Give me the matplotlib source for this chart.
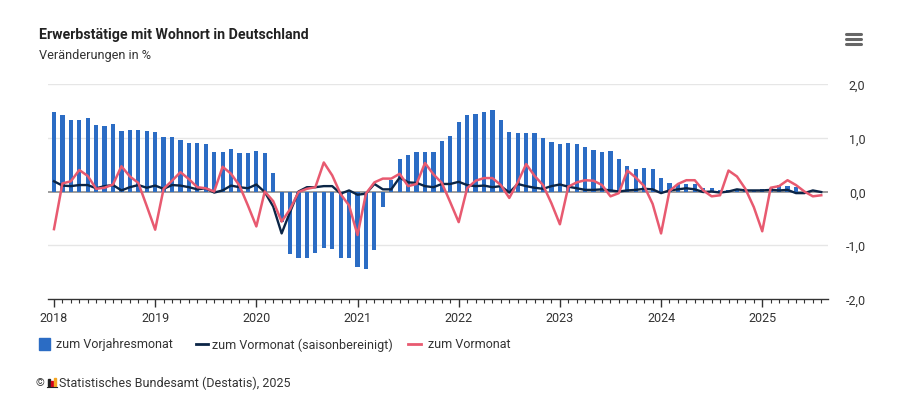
import numpy as np
import matplotlib.pyplot as plt
from matplotlib.lines import Line2D
from matplotlib.patches import Rectangle

# Monatswerte Januar 2018 bis August 2025, Veränderungen in %
years = [2018, 2019, 2020, 2021, 2022, 2023, 2024, 2025]

# zum Vorjahresmonat (Balken)
vorjahresmonat = [
    1.48, 1.43, 1.33, 1.33, 1.36, 1.24, 1.22, 1.26, 1.13, 1.15, 1.15, 1.12,
    1.10, 1.02, 1.02, 0.96, 0.91, 0.91, 0.88, 0.74, 0.74, 0.79, 0.72, 0.71,
    0.76, 0.71, 0.34, -0.56, -1.16, -1.23, -1.23, -1.15, -1.06, -1.07, -1.23, -1.23,
    -1.40, -1.45, -1.09, -0.29, 0.21, 0.60, 0.67, 0.73, 0.73, 0.73, 0.94, 1.04,
    1.29, 1.43, 1.45, 1.48, 1.52, 1.33, 1.11, 1.09, 1.09, 1.09, 0.99, 0.93,
    0.88, 0.90, 0.88, 0.83, 0.78, 0.73, 0.76, 0.60, 0.47, 0.42, 0.44, 0.42,
    0.25, 0.16, 0.14, 0.14, 0.14, 0.07, 0.06, 0.02, 0.02, 0.04, 0.04, 0.03,
    0.04, 0.07, 0.12, 0.10, 0.09, 0.00, 0.00, -0.01,
]

# zum Vormonat (saisonbereinigt)
vormonat_sb = [
    0.19, 0.11, 0.10, 0.12, 0.12, 0.06, 0.10, 0.12, 0.02, 0.08, 0.12, 0.07,
    0.11, 0.05, 0.12, 0.11, 0.08, 0.04, 0.06, -0.02, 0.02, 0.11, 0.08, 0.06,
    0.13, -0.01, -0.28, -0.78, -0.38, 0.00, 0.08, 0.08, 0.10, 0.10, -0.04, 0.02,
    -0.06, -0.04, 0.14, 0.04, 0.04, 0.26, 0.17, 0.16, 0.10, 0.08, 0.14, 0.14,
    0.18, 0.12, 0.10, 0.11, 0.08, 0.10, -0.02, 0.14, 0.10, 0.07, 0.05, 0.10,
    0.13, 0.09, 0.06, 0.03, 0.03, 0.04, 0.02, 0.00, 0.02, 0.03, 0.05, 0.04,
    -0.03, 0.02, 0.04, 0.06, 0.04, -0.01, 0.00, -0.02, 0.00, 0.04, 0.02, 0.02,
    0.02, 0.03, 0.02, 0.03, -0.03, -0.03, 0.02, -0.01,
]

# zum Vormonat (Ursprungswerte)
vormonat = [
    -0.70, 0.15, 0.19, 0.40, 0.29, 0.05, 0.07, 0.13, 0.47, 0.28, 0.16, -0.27,
    -0.71, 0.05, 0.20, 0.36, 0.23, 0.08, 0.06, 0.00, 0.46, 0.33, 0.11, -0.26,
    -0.65, 0.00, -0.18, -0.56, -0.33, -0.01, 0.05, 0.08, 0.54, 0.30, -0.05, -0.26,
    -0.81, -0.04, 0.17, 0.24, 0.24, 0.33, 0.10, 0.14, 0.53, 0.32, 0.16, -0.20,
    -0.57, 0.06, 0.20, 0.25, 0.25, 0.12, -0.12, 0.17, 0.51, 0.29, 0.12, -0.22,
    -0.61, 0.09, 0.17, 0.21, 0.20, 0.12, -0.09, -0.03, 0.39, 0.26, 0.10, -0.23,
    -0.78, 0.01, 0.14, 0.21, 0.21, 0.02, -0.09, -0.07, 0.39, 0.28, 0.05, -0.29,
    -0.74, 0.07, 0.10, 0.21, 0.12, 0.00, -0.09, -0.07,
]

yticks = [-2, -1, 0, 1, 2]
ytick_labels = ["-2,0", "-1,0", "0,0", "1,0", "2,0"]

BLUE = '#2b6cc4'
NAVY = '#0b2546'
PINK = '#e85a70'
TEXT = '#333333'

plt.rcParams['font.family'] = ['Roboto', 'DejaVu Sans']

W, H = 908, 410
fig = plt.figure(figsize=(W / 100, H / 100), dpi=100)


def fx(px):
    return px / W


def fy(py):
    return 1 - py / H


ax = fig.add_axes([fx(48), fy(300), fx(828) - fx(48), fy(85) - fy(300)])

months = np.arange(len(vorjahresmonat))
ax.bar(months, vorjahresmonat, width=0.5, color=BLUE, zorder=2)
ax.plot(months, vormonat_sb, color=NAVY, lw=1.7, zorder=3)
ax.plot(months, vormonat, color=PINK, lw=1.8, zorder=4)

ax.set_xlim(-0.71, 91.8)
ax.set_ylim(-2, 2)

for v in [1, 2, -1]:
    ax.axhline(v, color='#e6e6e6', lw=1, zorder=0)
ax.axhline(0, color='#8c8c8c', lw=1.2, zorder=1)

for side in ['top', 'left', 'right']:
    ax.spines[side].set_visible(False)
ax.spines['bottom'].set_color('#333333')
ax.spines['bottom'].set_linewidth(1)

ax.set_xticks(np.arange(0, len(months), 12))
ax.set_xticklabels([str(y) for y in years], fontsize=9, color=TEXT)
ax.set_xticks(months, minor=True)
ax.tick_params(axis='x', which='major', length=6, width=1, color='#333333', pad=3)
ax.tick_params(axis='x', which='minor', length=3, width=0.8, color='#333333')

ax.yaxis.tick_right()
ax.set_yticks(yticks)
ax.set_yticklabels(ytick_labels, fontsize=9, color=TEXT)
ax.tick_params(axis='y', length=0, pad=27)
for lab in ax.get_yticklabels():
    lab.set_horizontalalignment('right')

# Titel
fig.text(fx(39), fy(35), "Erwerbstätige mit Wohnort in Deutschland",
         fontsize=10.2, fontweight='bold', color='#222222', va='center')
fig.text(fx(39), fy(56), "Veränderungen in %", fontsize=9.2, color=TEXT, va='center')

# Menü-Symbol
for yy in [35, 40, 45]:
    fig.add_artist(Line2D([fx(846), fx(861)], [fy(yy), fy(yy)], color='#666666', lw=2.2,
                          solid_capstyle='round'))

# Legende
fig.add_artist(Rectangle((fx(39), fy(351)), fx(11), fy(339) - fy(351), color=BLUE))
fig.text(fx(56), fy(345), "zum Vorjahresmonat", fontsize=9, color=TEXT, va='center')
fig.add_artist(Line2D([fx(196), fx(208)], [fy(345), fy(345)], color=NAVY, lw=2))
fig.text(fx(212), fy(345), "zum Vormonat (saisonbereinigt)", fontsize=9, color=TEXT, va='center')
fig.add_artist(Line2D([fx(408), fx(421)], [fy(345), fy(345)], color=PINK, lw=2))
fig.text(fx(428), fy(345), "zum Vormonat", fontsize=9, color=TEXT, va='center')

# Quelle
fig.text(fx(36), fy(383), "©", fontsize=8, color=TEXT, va='center')
for i, (h, c) in enumerate([(7, '#222222'), (5, '#d0021b'), (8, '#f5a623')]):
    fig.add_artist(Rectangle((fx(48 + i * 3), fy(387)), fx(2), fy(387 - h) - fy(387), color=c))
fig.add_artist(Line2D([fx(47), fx(57)], [fy(388), fy(388)], color='#222222', lw=0.8))
fig.text(fx(59), fy(383), "Statistisches Bundesamt (Destatis), 2025", fontsize=9,
         color=TEXT, va='center')

fig.savefig('out.png', dpi=100)
